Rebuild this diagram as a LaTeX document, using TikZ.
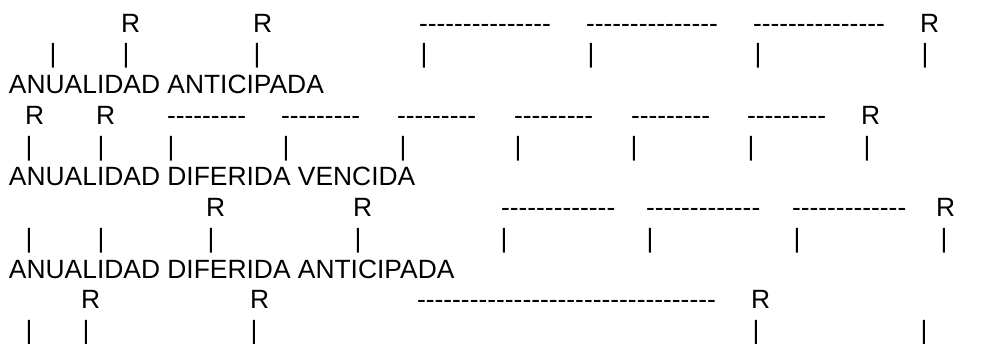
\documentclass[tikz,border=0pt]{standalone}
\usepackage{fontspec}
\setmainfont{Liberation Sans}[Ligatures=TeXOff]
\begin{document}
\begin{tikzpicture}[x=1pt,y=-1pt,
  txt/.style={inner sep=0pt,outer sep=0pt,font=\fontsize{26.4}{30}\selectfont,text=black},
  lft/.style={txt,anchor=base west},
  bar/.style={txt,anchor=base}]
\useasboundingbox[fill=white] (0,0) rectangle (981,343);
% row 1
\foreach \x [count=\i] in {121,253,920} \node[lft] (r1-\i) at (\x,32) {R};
\foreach \x [count=\i] in {419,586,753} \node[lft] (d1-\i) at (\x,32) {---------------};
\foreach \x [count=\i] in {53,126,257,424,591,758,925} \node[bar] (p1-\i) at (\x,62.75) {|};
\node[lft] (t1) at (9,93.5) {ANUALIDAD ANTICIPADA};
% row 2
\foreach \x [count=\i] in {25,96,861} \node[lft] (r2-\i) at (\x,124.25) {R};
\foreach \x [count=\i] in {167,281,397,514,631,747} \node[lft] (d2-\i) at (\x,124.25) {---------};
\foreach \x [count=\i] in {29,101,171,286,403,518,634,751,867} \node[bar] (p2-\i) at (\x,155) {|};
\node[lft] (t2) at (9,185.75) {ANUALIDAD DIFERIDA VENCIDA};
% row 3
\foreach \x [count=\i] in {206,353,936} \node[lft] (r3-\i) at (\x,216.5) {R};
\foreach \x [count=\i] in {501,646,792} \node[lft] (d3-\i) at (\x,216.5) {-------------};
\foreach \x [count=\i] in {29,101,211,358,504,650,797,944} \node[bar] (p3-\i) at (\x,247.25) {|};
\node[lft] (t3) at (9,278) {ANUALIDAD DIFERIDA ANTICIPADA};
% row 4
\foreach \x [count=\i] in {81,250,751} \node[lft] (r4-\i) at (\x,308.75) {R};
\node[lft] (d4-1) at (417,308.75) {----------------------------------};
\foreach \x [count=\i] in {29,86,254,756,924} \node[bar] (p4-\i) at (\x,339.5) {|};
\end{tikzpicture}
\end{document}
